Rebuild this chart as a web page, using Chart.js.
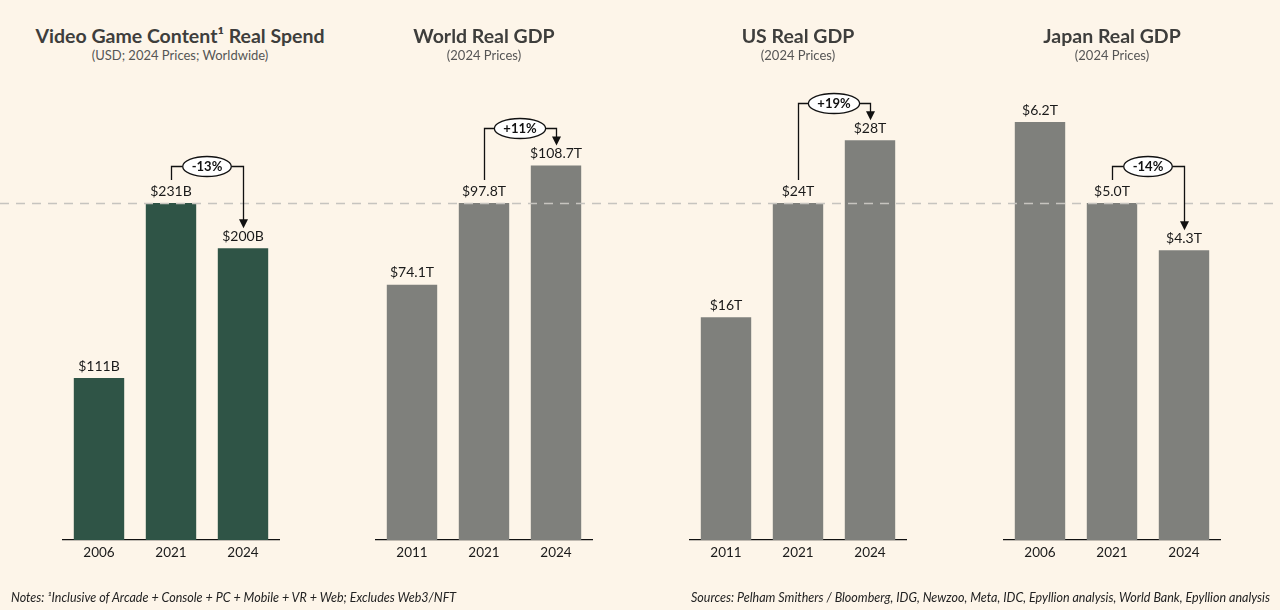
<!DOCTYPE html>
<html>
<head>
<meta charset="utf-8">
<script src="https://cdn.jsdelivr.net/npm/chart.js@4.4.1/dist/chart.umd.min.js"></script>
<style>
  html, body { margin: 0; padding: 0; background: #fdf5e9; }
  body { width: 1280px; height: 610px; position: relative; overflow: hidden; font-family: Lato, "Open Sans", sans-serif; }
  canvas { position: absolute; top: 0; }
  .title { position: absolute; top: 24px; width: 360px; text-align: center; color: #3e3e3c; font-weight: bold; font-size: 19.5px; }
  .sub { position: absolute; top: 47px; width: 360px; text-align: center; color: #555; font-size: 13px; }
  .note { position: absolute; top: 590px; font-style: italic; font-size: 12.5px; color: #222; }
</style>
</head>
<body>
<div id="root"></div>
<div class="note" style="left:11px">Notes: ¹Inclusive of Arcade + Console + PC + Mobile + VR + Web; Excludes Web3/NFT</div>
<div class="note" style="right:10px">Sources: Pelham Smithers / Bloomberg, IDG, Newzoo, Meta, IDC, Epyllion analysis, World Bank, Epyllion analysis</div>
<script>
// data
const gameYears = ['2006', '2021', '2024'];
const gameSpend = [111, 231, 200];        // $B
const worldYears = ['2011', '2021', '2024'];
const worldGdp = [74.1, 97.8, 108.7];     // $T
const usYears = ['2011', '2021', '2024'];
const usGdp = [15.6, 23.6, 28.0];         // $T
const japanYears = ['2006', '2021', '2024'];
const japanGdp = [6.2, 5.0, 4.3];         // $T

const panels = [
  { title: 'Video Game Content¹ Real Spend', sub: '(USD; 2024 Prices; Worldwide)', labels: gameYears, values: gameSpend, unit: 'B', dec: 0, color: '#2f5446', center: 171, titleX: 180, left: 0, width: 328 },
  { title: 'World Real GDP', sub: '(2024 Prices)', labels: worldYears, values: worldGdp, unit: 'T', dec: 1, color: '#7f807c', center: 484, titleX: 484, left: 328, width: 314 },
  { title: 'US Real GDP', sub: '(2024 Prices)', labels: usYears, values: usGdp, unit: 'T', dec: 0, color: '#7f807c', center: 798, titleX: 798, left: 642, width: 314 },
  { title: 'Japan Real GDP', sub: '(2024 Prices)', labels: japanYears, values: japanGdp, unit: 'T', dec: 1, color: '#7f807c', center: 1112, titleX: 1112, left: 956, width: 324 }
];

const TOP = 40, BOTTOM = 540, REF_H = 337;
const FONT = 'Lato, "Open Sans", sans-serif';

const decor = {
  id: 'decor',
  afterDatasetsDraw(chart, args, opts) {
    const p = opts.panel;
    const ctx = chart.ctx;
    const y = chart.scales.y;
    const meta = chart.getDatasetMeta(0);
    ctx.save();
    // dashed reference line at the middle bar value
    ctx.strokeStyle = '#c6c4bf';
    ctx.lineWidth = 1.5;
    ctx.setLineDash([9, 7]);
    ctx.lineDashOffset = p.left;
    const yr = Math.round(y.getPixelForValue(p.values[1])) + 0.5;
    ctx.beginPath(); ctx.moveTo(0, yr); ctx.lineTo(chart.width, yr); ctx.stroke();
    ctx.setLineDash([]);
    // value labels
    ctx.fillStyle = '#1a1a1a';
    ctx.font = '14px ' + FONT;
    ctx.textAlign = 'center';
    ctx.textBaseline = 'bottom';
    meta.data.forEach((bar, i) => {
      ctx.fillText('$' + p.values[i].toFixed(p.dec) + p.unit, bar.x, bar.y - 5);
    });
    // change bracket between bar 1 and 2
    const b1 = meta.data[1], b2 = meta.data[2];
    const yb = Math.round(Math.min(b1.y, b2.y) - 37) + 0.5;
    const mid = (b1.x + b2.x) / 2;
    const pct = Math.round((p.values[2] / p.values[1] - 1) * 100);
    const txt = (pct > 0 ? '+' : '-') + Math.abs(pct) + '%';
    ctx.font = 'bold 13px ' + FONT;
    const rw = ctx.measureText(txt).width / 2 + 9, rh = 10;
    ctx.strokeStyle = '#111';
    ctx.lineWidth = 1.3;
    const x1 = Math.round(b1.x) + 0.5, x2 = Math.round(b2.x) + 0.5;
    ctx.beginPath();
    ctx.moveTo(x1, b1.y - 23); ctx.lineTo(x1, yb); ctx.lineTo(mid - rw, yb);
    ctx.moveTo(mid + rw, yb); ctx.lineTo(x2, yb); ctx.lineTo(x2, b2.y - 27);
    ctx.stroke();
    ctx.fillStyle = '#111';
    ctx.beginPath();
    ctx.moveTo(x2 - 4.5, b2.y - 29); ctx.lineTo(x2 + 4.5, b2.y - 29); ctx.lineTo(x2, b2.y - 20);
    ctx.closePath(); ctx.fill();
    ctx.fillStyle = '#fff';
    ctx.beginPath(); ctx.ellipse(mid, yb, rw, rh, 0, 0, Math.PI * 2); ctx.fill(); ctx.stroke();
    ctx.fillStyle = '#111';
    ctx.textBaseline = 'middle';
    ctx.fillText(txt, mid, yb + 0.5);
    ctx.restore();
  }
};

const root = document.getElementById('root');
panels.forEach(p => {
  const t = document.createElement('div');
  t.className = 'title'; t.textContent = p.title; t.style.left = (p.titleX - 180) + 'px';
  root.appendChild(t);
  const s = document.createElement('div');
  s.className = 'sub'; s.textContent = p.sub; s.style.left = t.style.left;
  root.appendChild(s);

  const c = document.createElement('canvas');
  c.width = p.width; c.height = 610;
  c.style.left = p.left + 'px';
  c.style.width = p.width + 'px'; c.style.height = '610px';
  root.appendChild(c);

  const padL = p.center - 108 - p.left;
  const padR = p.width - (p.center + 108 - p.left);
  new Chart(c, {
    type: 'bar',
    data: {
      labels: p.labels,
      datasets: [{ data: p.values, backgroundColor: p.color, barPercentage: 0.7, categoryPercentage: 1 }]
    },
    options: {
      responsive: false,
      animation: false,
      layout: { padding: { left: padL, right: padR, top: TOP, bottom: 610 - BOTTOM - 22 } },
      plugins: { legend: { display: false }, tooltip: { enabled: false }, decor: { panel: p } },
      scales: {
        x: {
          afterFit: a => { a.height = 22; },
          grid: { display: false, drawTicks: false },
          border: { color: '#111', width: 1.2 },
          ticks: { color: '#1a1a1a', font: { family: FONT, size: 13.5 }, padding: 5 }
        },
        y: { display: false, min: 0, max: p.values[1] * (BOTTOM - TOP) / REF_H }
      }
    },
    plugins: [decor]
  });
});
</script>
</body>
</html>
